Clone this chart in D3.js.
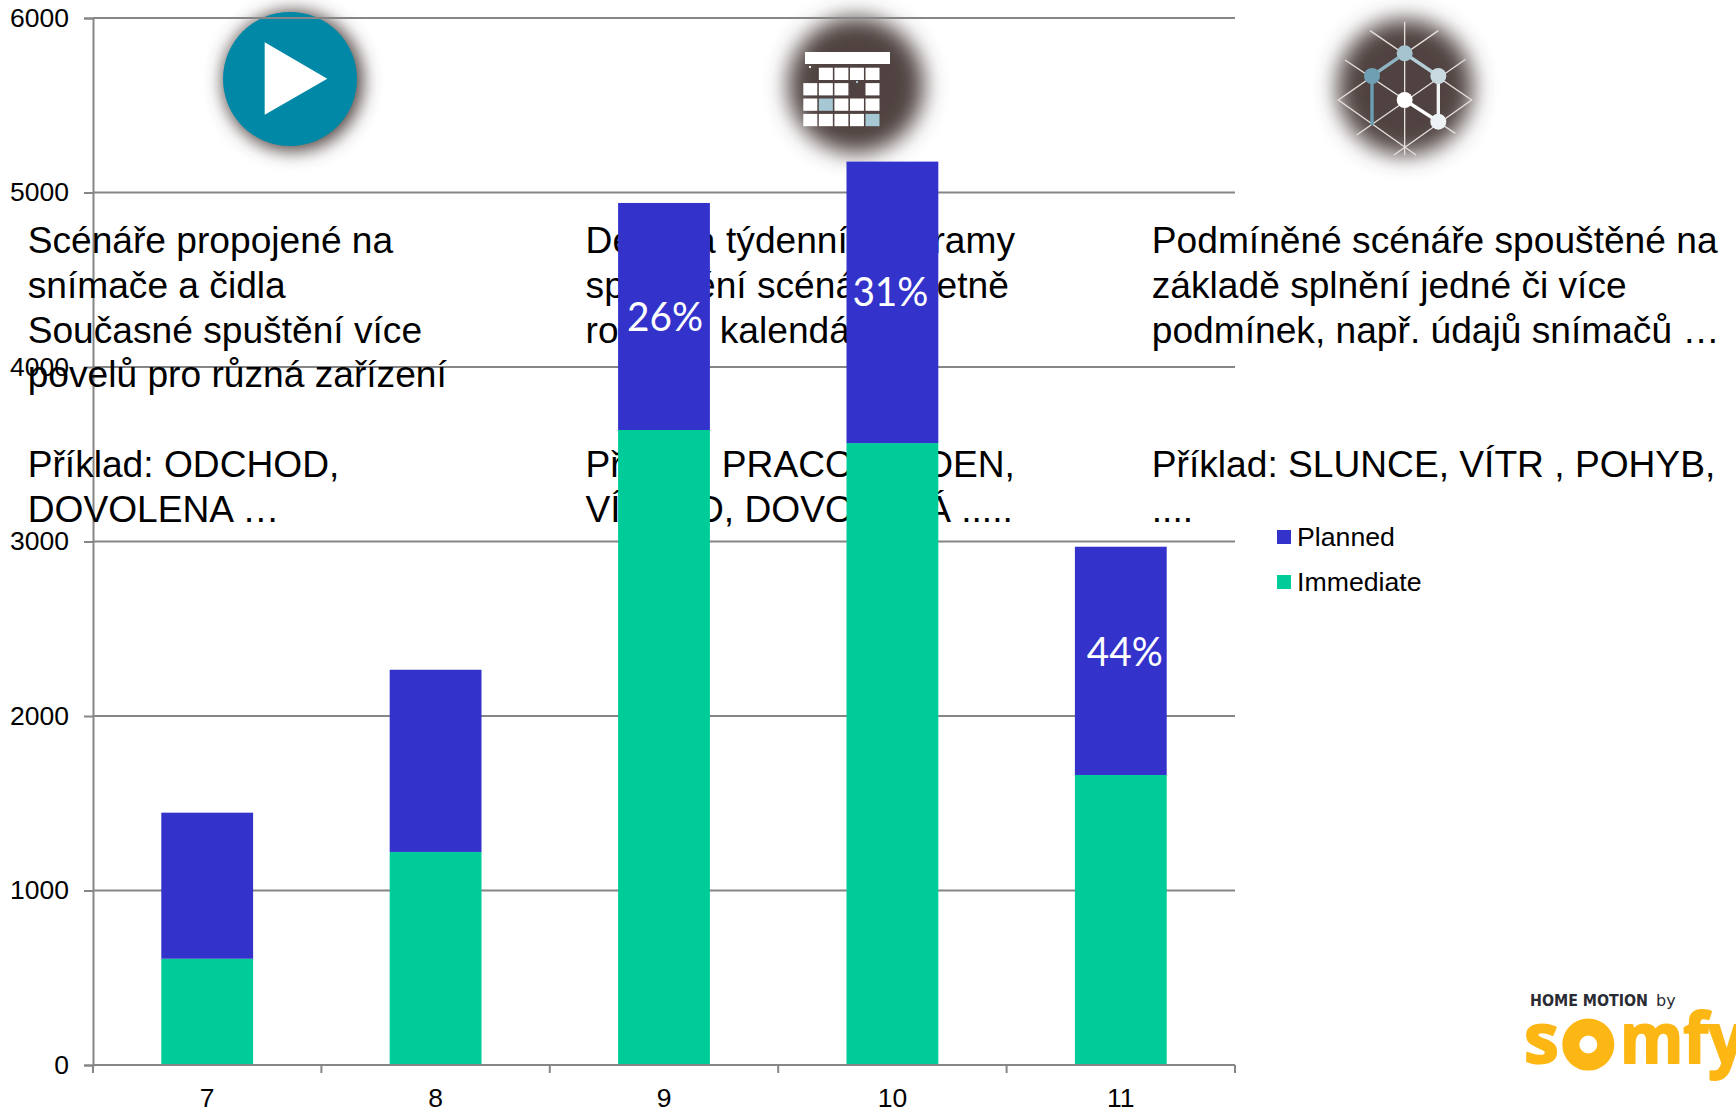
<!DOCTYPE html>
<html lang="en">
<head>
<meta charset="UTF-8" />
<title>Planned vs Immediate</title>
<script src="https://cdnjs.cloudflare.com/ajax/libs/d3/7.8.5/d3.min.js"></script>
<style>
	html, body { margin: 0; padding: 0; background: #fff; overflow: hidden; }
	svg { display: block; }
	text { font-family: "Liberation Sans", Arial, sans-serif; fill: #000; }
</style>
</head>
<body>
<svg id="svg" width="1736" height="1109"></svg>
<script>
const categories = ["7", "8", "9", "10", "11"];
const immediate = [609, 1221, 3639, 3564, 1662];
const planned = [837, 1044, 1301, 1613, 1308];
const yTicks = [0, 1000, 2000, 3000, 4000, 5000, 6000];
const seriesNames = ["Planned", "Immediate"];
const seriesColors = ["#3333cc", "#00cc99"];
const labelledCats = ["9", "10", "11"];

const col1 = ["Scénáře propojené na", "snímače a čidla", "Současné spuštění více", "povelů pro různá zařízení", "", "Příklad: ODCHOD,", "DOVOLENA …"];
const col2 = ["Denní a týdenní programy", "spouštění scénářů včetně", "ročního kalendáře", "", "", "Příklad: PRACOVNÍ DEN,", "VÍKEND, DOVOLENÁ ....."];
const col3 = ["Podmíněné scénáře spouštěné na", "základě splnění jedné či více", "podmínek, např. údajů snímačů …", "", "", "Příklad: SLUNCE, VÍTR , POHYB,", "...."];

const svg = d3.select("#svg");
const plotLeft = 93, plotRight = 1235, plotTop = 18, plotBottom = 1065;
const gridColor = "#868686";

const x = d3.scaleBand().domain(categories).range([plotLeft, plotRight]).paddingInner(0.598).paddingOuter(0.299);
const y = d3.scaleLinear().domain([0, 6000]).range([plotBottom, plotTop]);

// blur for the icon backgrounds
const defs = svg.append("defs");
const addBlur = (id, sd) => defs.append("filter").attr("id", id)
	.attr("x", "-50%").attr("y", "-50%").attr("width", "200%").attr("height", "200%")
	.append("feGaussianBlur").attr("stdDeviation", sd);
addBlur("blurDark", 11);
addBlur("blurShadow", 9);

// icons sit under the grid
const icons = svg.append("g");
icons.append("circle").attr("cx", 293).attr("cy", 81).attr("r", 70).attr("fill", "#4f4341").attr("filter", "url(#blurShadow)");
icons.append("circle").attr("cx", 290).attr("cy", 79).attr("r", 67).attr("fill", "#0088a6");
icons.append("path").attr("d", "M264.7,42.3L264.7,114.7L327.3,78.7Z").attr("fill", "#fff");

icons.append("circle").attr("cx", 856).attr("cy", 85).attr("r", 68).attr("fill", "#4f4341").attr("filter", "url(#blurDark)");
icons.append("rect").attr("x", 805).attr("y", 52).attr("width", 85).attr("height", 12).attr("fill", "#fff");
const calRows = [[0, 1, 1, 1, 1], [1, 1, 1, 0, 1], [1, 2, 1, 1, 1], [1, 1, 1, 1, 2]];
calRows.forEach((row, r) => row.forEach((c, i) => {
	if (!c) return;
	icons.append("rect").attr("x", 803.3 + i * 15.55).attr("y", 67.7 + r * 15.4)
		.attr("width", 14).attr("height", 12.3).attr("fill", c === 2 ? "#a6c8d4" : "#fff");
}));
icons.append("rect").attr("x", 809).attr("y", 66).attr("width", 2).attr("height", 2).attr("fill", "#fff");
icons.append("rect").attr("x", 856).attr("y", 81).attr("width", 2).attr("height", 2).attr("fill", "#a6c8d4");

icons.append("circle").attr("cx", 1405).attr("cy", 87).attr("r", 68).attr("fill", "#4f4341").attr("filter", "url(#blurDark)");
const net = icons.append("g").attr("transform", "translate(1310,0) scale(0.3333)");
[
	"M284,65L284,465",
	"M105,180L436,400",
	"M180,92L485,300L252,465",
	"M385,92L85,300L318,465",
	"M467,178L140,405"
].forEach(d => net.append("path").attr("d", d).attr("fill", "none").attr("stroke", "#e4e0dc").attr("stroke-width", 4));
[
	["M186,228L284,160", "#8fb4c4"], ["M284,160L385,228", "#b4ced8"], ["M385,228L385,365", "#f0f4f5"],
	["M284,300L385,365", "#fff"], ["M186,228L186,375", "#6a9fb5"]
].forEach(([d, c]) => net.append("path").attr("d", d).attr("stroke", c).attr("stroke-width", 10).attr("fill", "none"));
[[284, 160, "#a6c4d0"], [186, 228, "#6f9fb3"], [385, 228, "#c8dae0"], [284, 300, "#fff"], [385, 365, "#edf3f4"]]
	.forEach(([cx, cy, c]) => net.append("circle").attr("cx", cx).attr("cy", cy).attr("r", 24).attr("fill", c));

// gridlines
svg.append("g").selectAll("line").data(yTicks.slice(1)).join("line")
	.attr("x1", plotLeft).attr("x2", plotRight).attr("y1", d => y(d)).attr("y2", d => y(d))
	.attr("stroke", gridColor).attr("stroke-width", 2);

// y axis
const yAxis = svg.append("g").attr("transform", `translate(${plotLeft},0)`)
	.call(d3.axisLeft(y).tickValues(yTicks).tickSize(9).tickPadding(15).tickFormat(d3.format("d")));
yAxis.selectAll("path, line").attr("stroke", gridColor).attr("stroke-width", 2);
yAxis.selectAll("text").attr("font-size", 26.5).attr("font-family", "Liberation Sans");

// the slide text lies over the grid and under the bars
[[27.7, col1], [585.6, col2], [1151.8, col3]].forEach(([tx, lines]) => {
	svg.append("g").selectAll("text").data(lines).join("text")
		.attr("x", tx).attr("y", (d, i) => 253 + i * 44.75)
		.attr("font-size", 37.15).text(d => d);
});

// stacked bars
const stack = d3.stack().keys(["Immediate", "Planned"])(categories.map((c, i) => ({ cat: c, Immediate: immediate[i], Planned: planned[i] })));
const color = d3.scaleOrdinal().domain(seriesNames).range(seriesColors);
svg.append("g").selectAll("g").data(stack).join("g")
	.attr("fill", d => color(d.key))
	.selectAll("rect").data(d => d).join("rect")
	.attr("x", d => x(d.data.cat)).attr("width", x.bandwidth())
	.attr("y", d => y(d[1])).attr("height", d => y(d[0]) - y(d[1]));

// percent labels, each nudged by hand like in the slide
const labelNudge = { "9": 1, "10": -2, "11": 4 };
const labelAt = { "9": 4206, "10": 4349, "11": 2285 };
svg.append("g").selectAll("text").data(labelledCats).join("text")
	.attr("x", d => x(d) + x.bandwidth() / 2 + labelNudge[d])
	.attr("y", d => y(labelAt[d]))
	.attr("text-anchor", "middle")
	.style("font-family", "Lato")
	.style("fill", "#fff")
	.attr("font-size", 41)
	.attr("textLength", 76)
	.attr("lengthAdjust", "spacingAndGlyphs")
	.text(d => {
		const i = categories.indexOf(d);
		return Math.round(planned[i] / (planned[i] + immediate[i]) * 100) + "%";
	});

// x axis with ticks on the band edges
const xAxis = svg.append("g").attr("transform", `translate(0,${plotBottom})`)
	.call(d3.axisBottom(x).tickSize(0).tickPadding(0));
xAxis.select("path").remove();
xAxis.selectAll("text").attr("y", 42).attr("dy", 0).attr("font-size", 26.5).attr("font-family", "Liberation Sans");
svg.append("line").attr("x1", plotLeft).attr("x2", plotRight).attr("y1", plotBottom).attr("y2", plotBottom)
	.attr("stroke", gridColor).attr("stroke-width", 2);
svg.append("g").selectAll("line").data(d3.range(categories.length + 1)).join("line")
	.attr("x1", d => plotLeft + d * x.step()).attr("x2", d => plotLeft + d * x.step())
	.attr("y1", plotBottom).attr("y2", plotBottom + 8)
	.attr("stroke", gridColor).attr("stroke-width", 2);

// legend
const legend = svg.append("g").selectAll("g").data(seriesNames).join("g")
	.attr("transform", (d, i) => `translate(1277,${530 + i * 45})`);
legend.append("rect").attr("width", 14).attr("height", 14).attr("fill", d => color(d));
legend.append("text").attr("x", 20).attr("y", 15.5).attr("font-size", 26.7).text(d => d);

// logo
const logo = svg.append("g");
logo.append("text").attr("x", 1530).attr("y", 1006).attr("font-size", 16).attr("font-weight", 700)
	.style("font-family", "DejaVu Sans").style("fill", "#2b2b33")
	.attr("textLength", 118).attr("lengthAdjust", "spacingAndGlyphs").text("HOME MOTION");
logo.append("text").attr("x", 1656).attr("y", 1006).attr("font-size", 16)
	.style("font-family", "DejaVu Sans").style("fill", "#2b2b33").text("by");
const orange = "#fdb714";
const somfyStyle = t => t.attr("font-size", 70).attr("font-weight", 700)
	.style("font-family", "Open Sans").style("fill", orange)
	.attr("stroke", orange).attr("stroke-width", 2).attr("stroke-linejoin", "round");
logo.append("text").attr("x", 1524).attr("y", 1063).text("s").call(somfyStyle);
logo.append("circle").attr("cx", 1588.3).attr("cy", 1044.5).attr("r", 17.5).attr("fill", "none").attr("stroke", orange).attr("stroke-width", 17);
logo.append("text").attr("x", 1620).attr("y", 1063).attr("textLength", 125).attr("lengthAdjust", "spacingAndGlyphs").text("mfy").call(somfyStyle);
</script>
</body>
</html>
